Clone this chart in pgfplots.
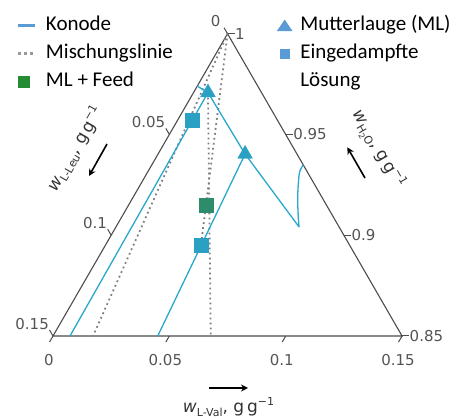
\documentclass[border=0pt]{standalone}
\usepackage{pgfplots}
\pgfplotsset{compat=1.18}
\usepackage{pgfplotstable}
\usepackage{fontspec}
\setmainfont{DejaVu Sans}
\newfontfamily\legendfont{Carlito}
\usetikzlibrary{arrows.meta}

\definecolor{tieblue}{RGB}{40,168,204}
\definecolor{markblue}{RGB}{42,160,194}
\definecolor{mixgreen}{RGB}{45,140,105}
\definecolor{legblue}{RGB}{91,155,213}
\definecolor{leggreen}{RGB}{38,140,52}
\definecolor{framegray}{gray}{0.3}
\definecolor{ticktext}{gray}{0.33}

% axis title: w_<component>, g g^-1
\newcommand\wlabel[1]{{\fontsize{17}{20}\selectfont\itshape w}\raisebox{-3.5pt}{\fontsize{11}{13}\selectfont #1}{\fontsize{17}{20}\selectfont , g\,g}\raisebox{7pt}{\fontsize{11}{13}\selectfont −1}}

% ternary (val, leu, h2o) -> cartesian, corner region val,leu in [0,0.15]
\pgfplotsset{table/tern/.style={
  x expr={\thisrow{val}+0.5*(\thisrow{h2o}-0.85)},
  y expr={0.8660254*(\thisrow{h2o}-0.85)}}}

% tie lines
\pgfplotstableread{
val    leu    h2o
0.0073 0.1427 0.8500
0.0062 0.0230 0.9708
}\tieA
\pgfplotstableread{
val    leu    h2o
0.0450 0.1050 0.8500
0.0374 0.0223 0.9403
}\tieB
% solubility curve
\pgfplotstableread{
val    leu    h2o
0.0000 0.0260 0.9740
0.0062 0.0230 0.9708
0.0374 0.0223 0.9403
0.0787 0.0172 0.9041
}\curveA
\pgfplotstableread{
val    leu    h2o
0.0787 0.0172 0.9041
0.0758 0.0150 0.9092
0.0706 0.0103 0.9191
0.0655 0.0038 0.9307
0.0651 0.0000 0.9349
}\curveB
% mixing / evaporation lines
\pgfplotstableread{
val    leu    h2o
0.0000 0.0000 1.0000
0.0172 0.1328 0.8500
}\mixA
\pgfplotstableread{
val    leu    h2o
0.0000 0.0000 1.0000
0.0410 0.0638 0.8952
}\mixB
\pgfplotstableread{
val    leu    h2o
0.0062 0.0230 0.9708
0.0678 0.0822 0.8500
}\mixC
% points
\pgfplotstableread{
val    leu    h2o
0.0062 0.0230 0.9708
0.0374 0.0223 0.9403
}\motherliquor
\pgfplotstableread{
val    leu    h2o
0.0061 0.0367 0.9572
0.0410 0.0638 0.8952
}\evaporated
\pgfplotstableread{
val    leu    h2o
0.0332 0.0518 0.9150
}\mlfeed

\begin{document}
\begin{tikzpicture}
\begin{axis}[
  scale only axis, width=459pt, height=418pt,
  xmin=-0.022776, xmax=0.174474, ymin=-0.035239, ymax=0.144392,
  hide axis, clip=false,
  legend columns=2, legend cell align=left,
  legend style={draw=none, fill=none, inner sep=0pt, outer sep=0pt,
    at={(axis cs:-0.015471,0.137516)}, anchor=north west,
    font=\legendfont\fontsize{21}{25}\selectfont,
    nodes={inner sep=0pt, text height=15pt, text depth=5pt},
    row sep=8pt,
    /tikz/every odd column/.append style={column sep=8pt},
    /tikz/column 2/.append style={column sep=104pt},
    /tikz/column 3/.append style={column sep=4pt}},
]
% frame
\draw[framegray, line width=1.1pt] (axis cs:0,0) -- (axis cs:0.15,0) -- (axis cs:0.075,0.1299038) -- cycle;
% ticks
\draw[framegray, line width=1pt] (axis cs:0,0) -- ++(240:7pt);
\draw[framegray, line width=1pt] (axis cs:0.05,0) -- ++(240:7pt);
\draw[framegray, line width=1pt] (axis cs:0.1,0) -- ++(240:7pt);
\draw[framegray, line width=1pt] (axis cs:0.15,0) -- ++(240:7pt);
\draw[framegray, line width=1pt] (axis cs:0.15,0) -- ++(0:7pt);
\draw[framegray, line width=1pt] (axis cs:0.125,0.0433013) -- ++(0:7pt);
\draw[framegray, line width=1pt] (axis cs:0.1,0.0866025) -- ++(0:7pt);
\draw[framegray, line width=1pt] (axis cs:0.075,0.1299038) -- ++(0:7pt);
\draw[framegray, line width=1pt] (axis cs:0.075,0.1299038) -- ++(120:7pt);
\draw[framegray, line width=1pt] (axis cs:0.05,0.0866025) -- ++(120:7pt);
\draw[framegray, line width=1pt] (axis cs:0.025,0.0433013) -- ++(120:7pt);
\draw[framegray, line width=1pt] (axis cs:0,0) -- ++(120:7pt);
% tick labels
\begin{scope}[every node/.style={text=ticktext, font=\fontsize{15}{18}\selectfont, inner sep=0.5pt}]
\node[xshift=-4pt, yshift=-24pt] at (axis cs:0,0) {0};
\node[xshift=-4pt, yshift=-24pt] at (axis cs:0.05,0) {0.05};
\node[xshift=-4pt, yshift=-24pt] at (axis cs:0.1,0) {0.1};
\node[xshift=-4pt, yshift=-24pt] at (axis cs:0.15,0) {0.15};
\node[anchor=west, xshift=7pt] at (axis cs:0.15,0) {0.85};
\node[anchor=west, xshift=7pt] at (axis cs:0.125,0.0433013) {0.9};
\node[anchor=west, xshift=7pt] at (axis cs:0.1,0.0866025) {0.95};
\node[anchor=west, xshift=7pt] at (axis cs:0.075,0.1299038) {1};
\node[anchor=south east, shift={(120:7pt)}, xshift=-3pt] at (axis cs:0.075,0.1299038) {0};
\node[anchor=south east, shift={(120:7pt)}] at (axis cs:0.05,0.0866025) {0.05};
\node[anchor=south east, shift={(120:7pt)}] at (axis cs:0.025,0.0433013) {0.1};
\node[anchor=south east, shift={(120:7pt)}] at (axis cs:0,0) {0.15};
\end{scope}
% axis titles
\begin{scope}[every node/.style={text=black!80, inner sep=0pt}]
\node[anchor=base] at (axis cs:0.07541,-0.032961) {\wlabel{L-Val}};
\node[rotate=60] at (axis cs:0.009454,0.080361) {\wlabel{L-Leu}};
\node[rotate=-60] at (axis cs:0.139665,0.080361) {\wlabel{H\raisebox{-2.5pt}{\fontsize{8}{9}\selectfont 2}O}};
\end{scope}
\draw[-{Stealth[length=7pt,width=7pt]}, line width=1.6pt] (axis cs:0.06704,-0.022346) -- (axis cs:0.08380,-0.022346);
\draw[-{Stealth[length=7pt,width=7pt]}, line width=1.6pt] (axis cs:0.023206,0.082510) -- (axis cs:0.015471,0.068758);
\draw[-{Stealth[length=7pt,width=7pt]}, line width=1.6pt] (axis cs:0.134078,0.067898) -- (axis cs:0.126472,0.081092);

% mixing lines
\pgfplotsset{mixline/.style={forget plot, no marks, black!50, line width=1.8pt, dash pattern=on 1.8pt off 3.2pt}}
\addplot[mixline] table[tern] {\mixA};
\addplot[mixline] table[tern] {\mixB};
\addplot[mixline] table[tern] {\mixC};
% tie lines and solubility curve
\pgfplotsset{tieline/.style={forget plot, no marks, tieblue, line width=1.3pt}}
\addplot[tieline] table[tern] {\tieA};
\addplot[tieline] table[tern] {\tieB};
\addplot[tieline, line join=round] table[tern] {\curveA};
\addplot[tieline, smooth] table[tern] {\curveB};
% points
\addplot[forget plot, only marks, mark=triangle*, mark size=8.5pt, mark options={fill=markblue, draw=markblue}] table[tern] {\motherliquor};
\addplot[forget plot, only marks, mark=square*, mark size=7pt, mark options={fill=markblue, draw=markblue}] table[tern] {\evaporated};
\addplot[forget plot, only marks, mark=square*, mark size=7pt, mark options={fill=mixgreen, draw=mixgreen}] table[tern] {\mlfeed};

% legend
\addlegendimage{legend image code/.code={\draw[legblue, line width=3pt] (0pt,0pt) -- (17pt,0pt);}}
\addlegendentry{Konode}
\addlegendimage{legend image code/.code={\fill[legblue] (0pt,-5pt) -- (15pt,-5pt) -- (7.5pt,6pt) -- cycle;}}
\addlegendentry{Mutterlauge (ML)}
\addlegendimage{legend image code/.code={\draw[black!40, line width=3pt, dash pattern=on 3pt off 3pt] (0pt,0pt) -- (18pt,0pt);}}
\addlegendentry{Mischungslinie}
\addlegendimage{legend image code/.code={\fill[legblue] (3pt,-4.5pt) rectangle (12pt,4.5pt);}}
\addlegendentry{Eingedampfte}
\addlegendimage{legend image code/.code={\fill[leggreen] (0pt,-5.5pt) rectangle (11pt,5.5pt);}}
\addlegendentry{ML + Feed}
\addlegendimage{empty legend}
\addlegendentry{Lösung}

\path (rel axis cs:0,0) rectangle (rel axis cs:1,1);
\end{axis}
\end{tikzpicture}
\end{document}
